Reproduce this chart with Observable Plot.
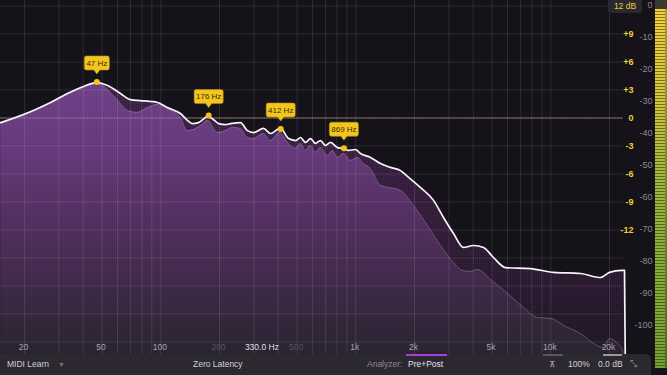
<!DOCTYPE html>
<html><head><meta charset="utf-8">
<script src="https://cdn.jsdelivr.net/npm/d3@7"></script>
<script src="https://cdn.jsdelivr.net/npm/@observablehq/plot@0.6"></script>
<style>
html,body{margin:0;padding:0;background:#16121a;}
#wrap{position:relative;width:667px;height:375px;overflow:hidden;background:#16121a;font-family:"Liberation Sans",Arial,sans-serif;}
#chart svg{display:block;}
.bar{position:absolute;left:0;top:354px;width:651px;height:21px;background:#2b2830;border-top-right-radius:6px;}
.bar span{position:absolute;top:5px;font-size:8.5px;line-height:11px;white-space:nowrap;color:#d4d0d8;}
.bar i{position:absolute;top:0;height:2px;display:block;}
#meter{position:absolute;left:655px;top:9px;width:10px;height:359px;
 background: repeating-linear-gradient(to bottom, rgba(0,0,0,0) 0px, rgba(0,0,0,0) 2px, rgba(25,25,10,0.5) 2px, rgba(25,25,10,0.5) 3px),
 linear-gradient(to bottom, #f4d23c 0%, #e6cd3a 12%, #cdc63c 28%, #a9bd3c 42%, #8fb33a 62%, #76a233 100%);}
#meter2{position:absolute;left:665px;top:9px;width:2px;height:359px;background:linear-gradient(to bottom,#a89a30,#4e6a22);}
#metertop{position:absolute;left:655px;top:0;width:12px;height:9px;background:#3b3833;}
#dbbox{position:absolute;left:608px;top:0;width:34px;height:13px;background:#2b2830;border-radius:0 0 3px 3px;color:#e6cf3c;font-size:8.5px;line-height:13px;text-align:center;}
</style></head>
<body>
<div id="wrap">
  <div id="chart"></div>
  <div id="dbbox">12 dB</div>
  <div id="metertop"></div>
  <div id="meter"></div>
  <div id="meter2"></div>
  <div class="bar">
    <i style="left:406px;width:41px;background:#a540d8"></i>
    <i style="left:543px;width:20px;background:#5a5660"></i>
    <i style="left:603px;width:19px;background:#9a969e"></i>
    <span style="left:7px">MIDI Learn</span>
    <span style="left:58px;color:#77727c;font-size:7px">▼</span>
    <span style="left:193px">Zero Latency</span>
    <span style="left:367px;color:#8f8a94">Analyzer:</span>
    <span style="left:408px;color:#e6e2ea">Pre+Post</span>
    <span style="left:549px;color:#b8b4bc;font-family:'DejaVu Sans'">⊼</span>
    <span style="left:568px">100%</span>
    <span style="left:598px">0.0 dB</span>
    <span style="left:630px;color:#8a8690;font-family:'DejaVu Sans';font-size:9px">⤡</span>
  </div>
</div>
<script>
// ---- Data (frequency in Hz, level in analyzer dB) ----
const whiteFreq = [15.1,22.2,27.2,33.2,40.1,46.8,53.3,62.1,69.9,78.7,88.6,96.2,108,126,137,145,156,174,186,198,215,228,256,278,299,336,365,410,452,491,521,552,586,621,659,699,742,806,865,917,996,1057,1190,1339,1507,1696,1841,2148,2504,2816,3170,3568,4014,4518,5084,5858,7868,10322,14202,17982,20000,23049,23877,24168];
const whiteLevel = [-36.6,-32.8,-30.3,-27.5,-25.3,-24.1,-25.0,-27.5,-29.4,-29.7,-30.0,-30.3,-31.9,-33.75,-35.9,-36.9,-36.6,-34.7,-35.6,-36.9,-37.2,-36.9,-36.6,-39.1,-39.7,-38.4,-40.0,-38.3,-41.6,-42.2,-41.25,-42.8,-41.6,-43.1,-42.2,-43.75,-42.8,-44.4,-44.7,-45.3,-45.0,-46.25,-47.5,-49.4,-50.6,-51.6,-53.4,-56.9,-60.9,-66.25,-71.25,-75.6,-75.0,-75.6,-78.75,-81.9,-82.2,-83.4,-83.75,-85.0,-83.4,-82.8,-82.8,-120];

const preFreq = [15.1,22.2,33.2,40.1,46.8,49.1,55.2,62.1,67.5,76.0,85.5,96.2,108,126,137,151,160,174,195,215,233,256,278,299,336,365,406,452,491,521,552,586,621,659,716,760,806,865,939,1021,1095,1190,1339,1696,1977,2332,2719,3170,3525,3875,4208,4906,5999,7246,8546,9964,12182,14202,16557,18634,20000,21725,23330,23877];
const preLevel = [-36.9,-33.1,-27.8,-25.6,-24.4,-24.7,-27.2,-30.6,-32.8,-33.4,-31.9,-30.9,-32.2,-35.0,-39.1,-38.4,-37.5,-35.9,-39.7,-39.1,-38.1,-38.4,-41.25,-41.6,-40.0,-42.2,-39.7,-43.1,-44.7,-43.1,-45.3,-43.75,-45.9,-44.4,-46.9,-45.3,-47.5,-46.25,-48.4,-47.5,-49.4,-51.0,-56.2,-57.8,-62.5,-68.75,-75.0,-80.3,-82.8,-83.1,-82.5,-85.6,-90.0,-94.4,-97.5,-97.8,-100.6,-102.5,-105.6,-106.9,-104.1,-105.3,-107.8,-120];

const peakFreq = [47, 176, 412, 869];
const peakLevel = [-23.9, -34.4, -38.6, -44.6];
const peakLabel = ["47 Hz", "176 Hz", "412 Hz", "869 Hz"];

const gridFreq = [20,30,40,50,60,70,80,90,100,200,300,400,500,600,700,800,900,1000,2000,3000,4000,5000,6000,7000,8000,9000,10000,20000];
const freqTickVals = [20,50,100,200,500,1000,2000,5000,10000,20000];
const freqTickText = ["20","50","100","200","500","1k","2k","5k","10k","20k"];
const freqTickDim = [false,false,false,true,true,false,false,false,false,false];
const cursorFreq = [330];
const cursorText = ["330.0 Hz"];

const eqGrid = [12,9,6,3,0,-3,-6,-9,-12,-15,-18,-21,-24];
const eqTickVals = [9,6,3,0,-3,-6,-9,-12];
const eqTickText = ["+9","+6","+3","0","-3","-6","-9","-12"];

const anTickVals = [0,-10,-20,-30,-40,-50,-60,-70,-80,-90,-100];
const anTickText = ["0","-10","-20","-30","-40","-50","-60","-70","-80","-90","-100"];

// EQ scale (±12 dB) expressed on the analyzer dB axis
const eqToA = e => -35.16 + 2.917 * e;

const white = whiteFreq.map((f, i) => ({f, a: whiteLevel[i]}));
const pre = preFreq.map((f, i) => ({f, a: preLevel[i]}));
const peaks = peakFreq.map((f, i) => ({f, a: peakLevel[i], label: peakLabel[i]}));
const fTicks = freqTickVals.map((f, i) => ({f, t: freqTickText[i], dim: freqTickDim[i]}));

function callout(w) {
  return {
    draw(ctx) {
      const l = -w / 2, r = w / 2, t = -26, b = -12, k = 2;
      ctx.moveTo(l + k, t);
      ctx.lineTo(r - k, t);
      ctx.arcTo(r, t, r, t + k, k);
      ctx.lineTo(r, b - k);
      ctx.arcTo(r, b, r - k, b, k);
      ctx.lineTo(3, b);
      ctx.lineTo(0, b + 4);
      ctx.lineTo(-3, b);
      ctx.lineTo(l + k, b);
      ctx.arcTo(l, b, l, b - k, k);
      ctx.lineTo(l, t + k);
      ctx.arcTo(l, t, l + k, t, k);
      ctx.closePath();
    }
  };
}

const cv = "monotone-x";
const chart = Plot.plot({
  width: 667,
  height: 354,
  margin: 0,
  x: {type: "log", domain: [20, 20000], range: [24, 609], axis: null},
  y: {domain: [0, -100], range: [5, 325], axis: null},
  style: {background: "#16121a", fontFamily: "Liberation Sans, Arial, sans-serif", fontSize: "9px"},
  marks: [
    Plot.ruleY([0], {y: () => eqToA(0), x1: 15, x2: 23500, stroke: "#7a6e45", strokeOpacity: 0.7}),
    Plot.areaY(white, {x: "f", y1: -130, y2: "a", curve: cv, fill: "url(#darkGrad)", clip: true}),
    Plot.areaY(white, {x: "f", y1: -130, y2: "a", curve: cv, fill: "url(#dots)", clip: true}),
    Plot.areaY(pre, {x: "f", y1: -130, y2: "a", curve: cv, fill: "url(#purpleGrad)", clip: true}),
    Plot.areaY(pre, {x: "f", y1: -130, y2: "a", curve: cv, fill: "url(#dots2)", clip: true}),
    Plot.line(pre, {x: "f", y: "a", curve: cv, stroke: "#9a8aa4", strokeOpacity: 0.45, strokeWidth: 1, clip: true}),
    Plot.ruleX(gridFreq, {x: d => d, stroke: "#ffffff", strokeOpacity: 0.1}),
    Plot.ruleY(eqGrid, {y: eqToA, x1: 15, x2: 23500, stroke: "#ffffff", strokeOpacity: 0.1}),
    Plot.ruleY([0], {y: () => eqToA(0), x1: 15, x2: 23500, stroke: "#ffffff", strokeOpacity: 0.35, strokeDasharray: "1,2"}),
    Plot.line(white, {x: "f", y: "a", curve: cv, stroke: "#f6f4f8", strokeWidth: 1.7, clip: true}),
    Plot.dot(peaks.filter(d => d.label.length <= 5), {x: "f", y: "a", symbol: callout(25), r: 3, fill: "#f2c521", stroke: "#b8900e", strokeWidth: 0.6}),
    Plot.dot(peaks.filter(d => d.label.length > 5), {x: "f", y: "a", symbol: callout(29), r: 3, fill: "#f2c521", stroke: "#b8900e", strokeWidth: 0.6}),
    Plot.text(peaks, {x: "f", y: "a", text: "label", dy: -19, fill: "#3a2c00", fontSize: 8}),
    Plot.dot(peaks, {x: "f", y: "a", r: 3, fill: "#f5c41c"}),
    Plot.text(fTicks, {x: "f", text: "t", frameAnchor: "bottom", dy: -5, dx: -1, fill: d => d.dim ? "#5f4f66" : "#aaa4b0", fontSize: 8.5}),
    Plot.text(cursorFreq, {x: d => d, text: (d, i) => cursorText[i], frameAnchor: "bottom", dy: -5, fill: "#e2dee6", fontSize: 8.5}),
    Plot.text(eqTickVals, {y: eqToA, text: (d, i) => eqTickText[i], frameAnchor: "right", dx: -34, textAnchor: "end", fill: "#e6cf3c", fontWeight: "bold", fontSize: 9}),
    Plot.text(anTickVals, {y: d => d, text: (d, i) => anTickText[i], frameAnchor: "right", dx: -15, textAnchor: "end", fill: "#8c8892", fontSize: 9})
  ]
});

const NS = "http://www.w3.org/2000/svg";
function el(name, attrs, parent) {
  const e = document.createElementNS(NS, name);
  for (const k in attrs) e.setAttribute(k, attrs[k]);
  if (parent) parent.appendChild(e);
  return e;
}
const defs = el("defs", {});
const g1 = el("linearGradient", {id: "purpleGrad", gradientUnits: "userSpaceOnUse", x1: 0, y1: 80, x2: 0, y2: 354}, defs);
[[0, "#71428a"], [0.25, "#693b7e"], [0.5, "#553163"], [0.75, "#402b4a"], [1, "#2a2430"]].forEach(([o, c]) => el("stop", {offset: o, "stop-color": c}, g1));
const g2 = el("linearGradient", {id: "darkGrad", gradientUnits: "userSpaceOnUse", x1: 0, y1: 80, x2: 0, y2: 354}, defs);
[[0, "#44264f"], [0.5, "#38203f"], [1, "#241a2a"]].forEach(([o, c]) => el("stop", {offset: o, "stop-color": c}, g2));
const p1 = el("pattern", {id: "dots", width: 2, height: 2, patternUnits: "userSpaceOnUse"}, defs);
el("rect", {x: 0, y: 0, width: 1, height: 1, fill: "#000", "fill-opacity": 0.3}, p1);
const p2 = el("pattern", {id: "dots2", width: 2, height: 2, patternUnits: "userSpaceOnUse"}, defs);
el("rect", {x: 0, y: 0, width: 1, height: 1, fill: "#000", "fill-opacity": 0.08}, p2);
chart.insertBefore(defs, chart.firstChild);

document.getElementById("chart").appendChild(chart);
</script>
</body></html>
